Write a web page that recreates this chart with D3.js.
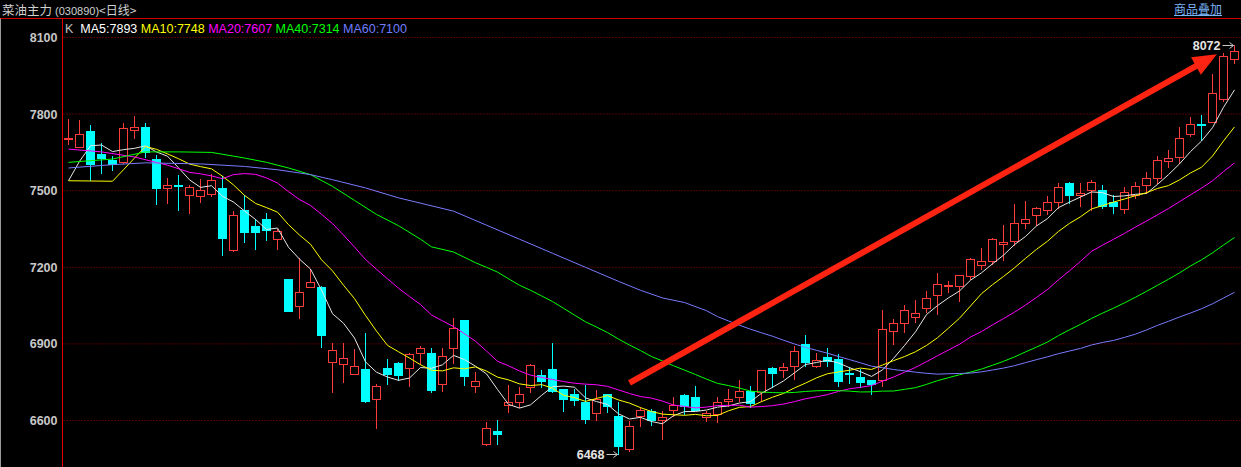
<!DOCTYPE html>
<html><head><meta charset="utf-8">
<script src="https://cdn.jsdelivr.net/npm/d3@7"></script>
<style>html,body{margin:0;padding:0;background:#000;overflow:hidden}</style>
</head><body><svg id="c" width="1241" height="467"></svg>
<script>
// ---------------- data ----------------
const titleMain = "菜油主力";
const titleCode = " (030890)";
const titlePeriod = "<日线>";
const overlayLabel = "商品叠加";
const yTicks = [6600, 6900, 7200, 7500, 7800, 8100];
const legendNames = ["MA5", "MA10", "MA20", "MA40", "MA60"];
const legendValues = [7893, 7748, 7607, 7314, 7100];
const maPeriods = [5, 10, 20, 40, 60];
const maColors = ["#e6e6e6", "#ffff00", "#ff00ff", "#00ff00", "#7a7aff"];
const legendColors = ["#ffffff", "#ffff00", "#ff00ff", "#00ff00", "#6f7dff"];

const open = [7703,7673,7735,7645,7619,7611,7736,7749,7624,7509,7523,7484,7478,7486,7512,7267,7426,7360,7391,7310,
7153,7050,7124,7122,6830,6823,6784,6801,6683,6805,6825,6806,6863,6864,6741,6882,6993,6734,6507,6559,
6662,6671,6730,6780,6801,6723,6704,6674,6628,6702,6618,6490,6617,6636,6602,6641,6700,6692,6614,6625,
6676,6691,6714,6710,6805,6798,6812,6899,6812,6847,6840,6786,6770,6758,6759,6951,6980,7007,7042,7093,
7125,7127,7166,7209,7224,7291,7302,7374,7403,7423,7455,7532,7485,7502,7504,7455,7429,7482,7521,7550,
7618,7632,7722,7761,7771,7859,8015];
const high = [7782,7778,7758,7687,7637,7766,7793,7766,7641,7550,7563,7524,7547,7567,7556,7422,7482,7390,7413,7350,
7155,7235,7192,7125,6902,6902,6879,6942,6743,6840,6831,6866,6892,6883,6883,7000,6995,6788,6594,6602,
6739,6731,6821,6797,6903,6725,6723,6739,6719,6705,6671,6598,6652,6645,6638,6693,6702,6736,6638,6693,
6723,6758,6734,6798,6808,6827,6892,6934,6866,6882,6860,6808,6801,6760,7032,6997,7051,7071,7107,7176,
7145,7170,7238,7274,7314,7365,7446,7461,7435,7478,7530,7536,7530,7543,7524,7485,7513,7533,7575,7637,
7661,7749,7788,7797,7957,8038,8072];
const low = [7683,7670,7543,7570,7582,7608,7705,7632,7446,7450,7426,7411,7455,7478,7248,7265,7298,7270,7306,7271,
7027,7002,7122,6888,6710,6752,6782,6673,6572,6744,6759,6736,6821,6713,6717,6825,6740,6710,6505,6507,
6632,6652,6713,6730,6713,6636,6662,6591,6603,6632,6468,6482,6580,6584,6528,6619,6625,6640,6599,6595,
6658,6677,6652,6677,6730,6769,6762,6812,6810,6812,6736,6745,6732,6704,6736,6898,6947,6986,7023,7017,
7103,7068,7156,7192,7212,7227,7289,7352,7364,7407,7433,7452,7439,7426,7433,7413,7413,7472,7491,7530,
7591,7609,7713,7700,7770,7853,7999];
const close = [7707,7723,7603,7630,7603,7745,7749,7652,7509,7521,7518,7513,7504,7542,7314,7405,7338,7338,7345,7343,
7029,7105,7144,6935,6878,6843,6814,6677,6734,6783,6779,6859,6882,6720,6851,6964,6775,6753,6570,6546,
6672,6702,6816,6756,6715,6685,6680,6607,6684,6658,6502,6578,6640,6602,6614,6661,6658,6642,6630,6671,
6684,6715,6668,6796,6787,6809,6874,6830,6836,6832,6755,6781,6752,6743,6960,6980,7034,7020,7081,7136,
7131,7168,7231,7226,7312,7301,7374,7390,7433,7456,7515,7482,7490,7533,7442,7439,7495,7520,7550,7621,
7628,7706,7761,7756,7882,8028,8047];

const ma5Lead  = [[0,7539],[1,7615],[2,7676],[3,7679]];
const ma10Lead = [[0,7539],[2,7538],[4,7537],[5,7582],[6,7628],[7,7673],[8,7662]];
const ma20Lead = [[0,7663],[3,7652],[6,7632],[9,7600],[11,7572],[12,7566],[13,7558],[14,7547],[15,7563],[16,7567],[17,7564],[18,7550]];
const ma40Lead = [[0,7611],[4,7624],[7,7652],[10,7652],[13,7650],[16,7628],[18,7611],[20,7589],[22,7563],[24,7517],[26,7462],[28,7407],[30,7363],[32,7310],[33,7280],[35,7260],[37,7218],[38,7200]];
const ma60Lead = [[0,7589],[4,7602],[7,7609],[12,7605],[16,7595],[19,7582],[22,7563],[24,7543],[27,7511],[30,7472],[35,7420],[38,7365],[41,7310],[44,7255],[47,7200],[50,7145],[52,7110],[54,7080],[56,7062],[58,7030]];
const maLeads = [ma5Lead, ma10Lead, ma20Lead, ma40Lead, ma60Lead];

const extremeHigh = 8072, extremeLow = 6468;
const trendFrom = {i: 51, v: 6747};
const trendTo = {i: 104.4, v: 8034};

// ---------------- chart ----------------
const W = 1241, H = 467;
const svg = d3.select("#c");
svg.append("rect").attr("width", W).attr("height", H).attr("fill", "#000");

const n = close.length;
const x = d3.scaleLinear().domain([0, n - 1]).range([68.5, 68.5 + 11 * (n - 1)]);
const y = d3.scaleLinear().domain([6600, 8100]).range([420.5, 37.5]);

const plotTop = 18.5, axisX = 62.5;

// header
const title = svg.append("text").attr("x", 2).attr("y", 14.5).attr("fill", "#d0d0d0")
  .style("font-family", "'Noto Sans CJK SC','Liberation Sans',sans-serif").style("font-size", "12.5px");
title.append("tspan").text(titleMain);
title.append("tspan").text(titleCode).style("font-family", "'Liberation Sans',Arial,sans-serif").style("font-size", "11px");
title.append("tspan").text(titlePeriod).style("font-size", "12px");

const ov = svg.append("text").attr("x", 1222).attr("y", 13.5).attr("text-anchor", "end")
  .attr("fill", "#7ab4f5").style("font-family", "'Noto Sans CJK SC',sans-serif").style("font-size", "12px").text(overlayLabel);
const ovLen = ov.node().getComputedTextLength();
svg.append("line").attr("x1", 1222 - ovLen).attr("x2", 1222).attr("y1", 15.5).attr("y2", 15.5).attr("stroke", "#7ab4f5");

// frame lines
svg.append("line").attr("x1", 0).attr("x2", W).attr("y1", plotTop).attr("y2", plotTop).attr("stroke", "#d00000");
svg.append("line").attr("x1", axisX).attr("x2", axisX).attr("y1", plotTop).attr("y2", H).attr("stroke", "#e00000");
svg.append("line").attr("x1", 0.5).attr("x2", 0.5).attr("y1", plotTop).attr("y2", H).attr("stroke", "#9a9a9a");

// grid
svg.append("g").selectAll("line").data(yTicks).join("line")
  .attr("x1", axisX + 1).attr("x2", W).attr("y1", d => y(d)).attr("y2", d => y(d))
  .attr("stroke", "#a00000").attr("stroke-dasharray", "1,2");

// y axis
const yAxis = svg.append("g").attr("transform", `translate(${axisX},0)`)
  .call(d3.axisLeft(y).tickValues(yTicks).tickSize(0).tickPadding(5).tickFormat(d3.format("d")));
yAxis.select(".domain").remove();
yAxis.selectAll("text").attr("fill", "#c8c8c8")
  .style("font-family", "'Liberation Sans',Arial,sans-serif").style("font-size", "12.5px").style("font-weight", "bold");

// legend
const leg = svg.append("text").attr("x", 65).attr("y", 32.5)
  .style("font-family", "'Liberation Sans',Arial,sans-serif").style("font-size", "12.5px").attr("xml:space", "preserve");
leg.append("tspan").attr("fill", "#c0c0c0").text("K  ");
legendNames.forEach((nm, k) => {
  leg.append("tspan").attr("fill", legendColors[k]).text(nm + ":" + legendValues[k] + (k < legendNames.length - 1 ? " " : ""));
});

// clip
svg.append("clipPath").attr("id", "plot").append("rect")
  .attr("x", axisX + 0.5).attr("y", plotTop + 0.5).attr("width", W - axisX).attr("height", H - plotTop);

const plot = svg.append("g").attr("clip-path", "url(#plot)");

// candles
const UP = "#ff3c3c", DOWN = "#00ffff";
const candles = d3.range(n).map(i => ({i, o: open[i], h: high[i], l: low[i], c: close[i]}));
const cg = plot.append("g").selectAll("g").data(candles).join("g");
cg.append("line")
  .attr("x1", d => x(d.i)).attr("x2", d => x(d.i))
  .attr("y1", d => Math.round(y(d.h))).attr("y2", d => Math.round(y(d.l)) + 1)
  .attr("stroke", d => d.c >= d.o ? UP : DOWN);
cg.each(function(d) {
  const g = d3.select(this);
  const top = Math.round(y(Math.max(d.o, d.c)));
  const bot = Math.round(y(Math.min(d.o, d.c)));
  const left = x(d.i) - 4.5;
  if (d.c >= d.o) {
    g.append("rect").attr("x", left + 0.5).attr("y", top + 0.5)
      .attr("width", 8).attr("height", Math.max(1, bot - top))
      .attr("fill", "#000").attr("stroke", UP);
  } else {
    g.append("rect").attr("x", left).attr("y", top)
      .attr("width", 9).attr("height", Math.max(2, bot - top + 1))
      .attr("fill", DOWN);
  }
});

// moving averages
function movingAverage(period, lead) {
  const pts = lead.map(([i, v]) => ({i, v}));
  for (let i = period - 1; i < n; i++) pts.push({i, v: d3.mean(close.slice(i - period + 1, i + 1))});
  return pts;
}
const line = d3.line().x(d => x(d.i)).y(d => y(d.v));
maPeriods.forEach((p, k) => {
  plot.append("path").datum(movingAverage(p, maLeads[k]))
    .attr("d", line).attr("fill", "none").attr("stroke", maColors[k]).attr("stroke-width", 1);
});

// trend arrow
const sx = x(trendFrom.i), sy = y(trendFrom.v), ex = x(trendTo.i), ey = y(trendTo.v);
const ang = Math.atan2(ey - sy, ex - sx), ux = Math.cos(ang), uy = Math.sin(ang), px = -uy, py = ux;
const headLen = 24, headHalf = 10, shaftHalf = 3;
const bx = ex - ux * headLen, by = ey - uy * headLen;
const arrowPts = [
  [sx + px * shaftHalf, sy + py * shaftHalf],
  [bx + px * shaftHalf, by + py * shaftHalf],
  [bx + px * headHalf, by + py * headHalf],
  [ex, ey],
  [bx - px * headHalf, by - py * headHalf],
  [bx - px * shaftHalf, by - py * shaftHalf],
  [sx - px * shaftHalf, sy - py * shaftHalf]
];
plot.append("path").attr("d", d3.line()(arrowPts) + "Z").attr("fill", "#ff2312");

// extreme labels
function extremeLabel(idx, val) {
  const cx = x(idx), cy = Math.round(y(val)) + 0.5;
  const g = svg.append("g");
  g.append("text").attr("x", cx - 14).attr("y", cy + 4.5).attr("text-anchor", "end")
    .attr("fill", "#e4e4e4").style("font-family", "'Liberation Sans',Arial,sans-serif")
    .style("font-size", "12.5px").style("font-weight", "bold").text(val);
  g.append("line").attr("x1", cx - 12).attr("x2", cx - 1).attr("y1", cy).attr("y2", cy).attr("stroke", "#c8c8c8");
  g.append("path").attr("d", d3.line()([[cx - 5, cy - 3], [cx - 1, cy], [cx - 5, cy + 3]]))
    .attr("fill", "none").attr("stroke", "#c8c8c8");
}
extremeLabel(d3.maxIndex(high), extremeHigh);
extremeLabel(d3.minIndex(low), extremeLow);
</script></body></html>
